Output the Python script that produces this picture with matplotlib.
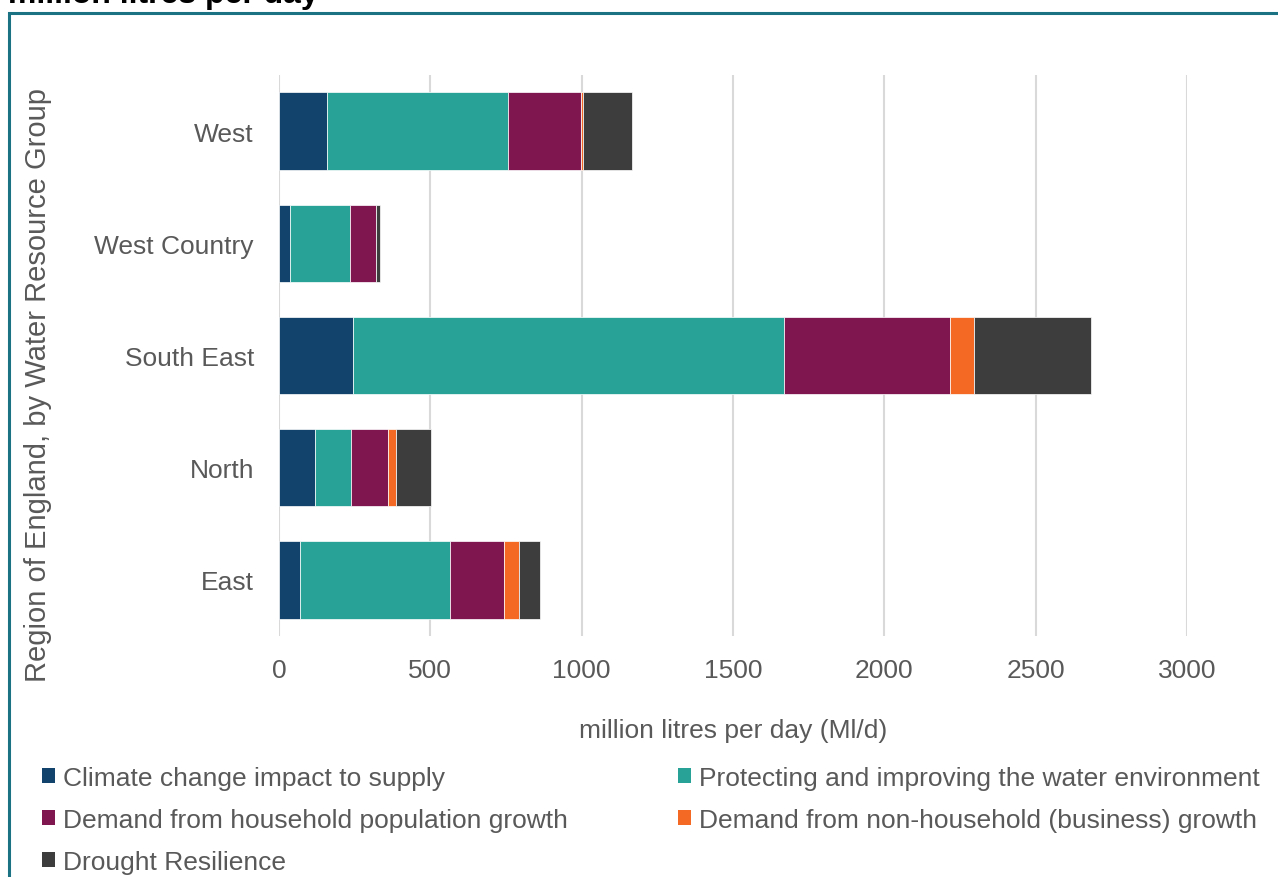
import matplotlib
matplotlib.use("Agg")
import matplotlib.pyplot as plt
from matplotlib.patches import Patch, Rectangle
import numpy as np

plt.rcParams['font.family'] = ['Liberation Sans', 'DejaVu Sans']

# data (million litres per day)
regions = ['West', 'West Country', 'South East', 'North', 'East']
climate = [159, 36, 246, 120, 69]
environment = [598, 197, 1422, 119, 496]
household = [242, 87, 548, 121, 179]
business = [5, 0, 80, 25, 48]
drought = [162, 14, 386, 118, 70]

series_names = ['Climate change impact to supply',
                'Protecting and improving the water environment',
                'Demand from household population growth',
                'Demand from non-household (business) growth',
                'Drought Resilience']
series_vals = [climate, environment, household, business, drought]
colors = ['#12436D', '#28A197', '#801650', '#F46A25', '#3D3D3D']

grey = '#595959'
fs = 19

fig = plt.figure(figsize=(12.78, 8.78), dpi=100)
ax = fig.add_axes([279/1278, 1 - 637/878, (1187 - 279)/1278, (637 - 76)/878])

y = np.arange(len(regions))
left = np.zeros(len(regions))
handles = []
for name, vals, c in zip(series_names, series_vals, colors):
    ax.barh(y, vals, left=left, height=0.69, color=c, edgecolor='white',
            linewidth=0.5, zorder=3)
    left += np.array(vals)
    handles.append(Patch(facecolor=c, edgecolor='none', label=name))

ax.set_yticks(y)
ax.set_yticklabels(regions)
ax.set_ylim(len(regions) - 0.5, -0.5)
ax.set_xlim(0, 3000)
ax.set_xticks(np.arange(0, 3001, 500))
ax.grid(axis='x', color='#d9d9d9', linewidth=1.5, zorder=0)
ax.set_axisbelow(True)
for s in ax.spines.values():
    s.set_visible(False)
ax.tick_params(axis='y', length=0, pad=18, labelsize=fs, labelcolor=grey)
ax.tick_params(axis='x', length=0, pad=16, labelsize=fs, labelcolor=grey)

ax.set_xlabel('million litres per day (Ml/d)', fontsize=fs, color=grey, labelpad=26)
fig.text(38/1278, 1 - 385/878, 'Region of England, by Water Resource Group',
         rotation=90, ha='center', va='center', fontsize=21, color=grey)

# legend, reordered so it reads row by row
order = [0, 2, 4, 1, 3]
leg = fig.legend([handles[i] for i in order], [series_names[i] for i in order],
                 ncol=2, loc='upper left', bbox_to_anchor=(42/1278, 1 - 767/878),
                 frameon=False, fontsize=fs, handlelength=0.5, handleheight=0.5,
                 handletextpad=0.3, columnspacing=4.15, labelspacing=0.68,
                 borderaxespad=0, borderpad=0)
for t in leg.get_texts():
    t.set_color(grey)

# outer border and cropped title
fig.patches.append(Rectangle((9/1278, -0.05), 1.1, 1 - 14/878 + 0.05,
                             transform=fig.transFigure, fill=False,
                             edgecolor='#1a7282', linewidth=2.2))
fig.text(8/1278, 1 - 3.5/878, 'million litres per day', fontsize=23,
         fontweight='bold', color='black', va='baseline', ha='left')

fig.savefig('out.png', dpi=100)
